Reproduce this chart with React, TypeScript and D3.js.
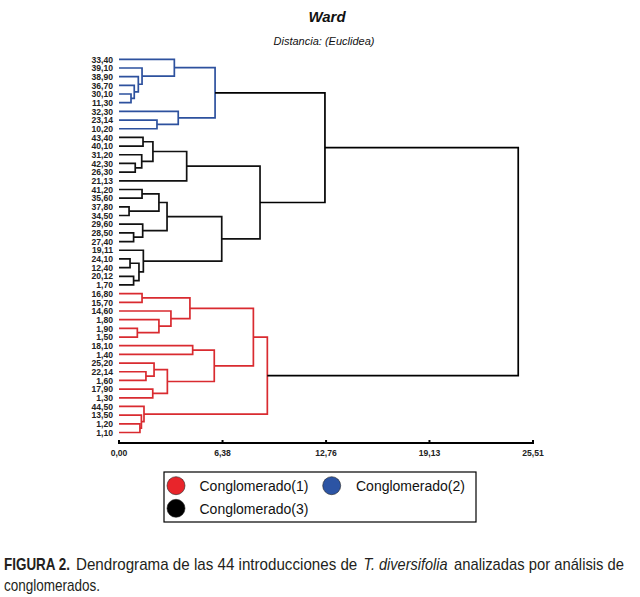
import React, { useLayoutEffect, useRef, useState } from "react";
import * as d3 from "d3";

const leaves = [
  "33,40","39,10","38,90","36,70","30,10","11,30","32,30","23,14","10,20",
  "43,40","40,10","31,20","42,30","26,30","21,13","41,20","35,60","37,80",
  "34,50","29,60","28,50","27,40","19,11","24,10","12,40","20,12","1,70",
  "16,80","15,70","14,60","1,80","1,90","1,50","18,10","1,40","25,20",
  "22,14","1,60","17,90","1,30","44,50","13,50","1,20","1,10",
];

// merges: [childA, childB] ; node id = leaves.length + index
const mergeChildren: [number, number][] = [
  [4,5],[3,44],[2,45],[1,46],[0,47],[7,8],[6,49],[48,50],
  [9,10],[12,13],[11,53],[52,54],[55,14],[15,16],[17,18],[57,58],[20,21],[19,60],[59,61],[23,24],[25,26],[63,64],[22,65],[62,66],[56,67],
  [27,28],[31,32],[30,70],[29,71],[69,72],[33,34],[36,37],[35,75],[38,39],[76,77],[74,78],[73,79],[42,43],[41,81],[40,82],[80,83],
  [51,68],[85,84],
];
const mergeHeights = [
  0.74,0.94,1.19,1.42,3.41,2.34,3.65,5.92,
  1.48,1.00,1.40,2.09,4.17,1.42,0.62,2.46,0.90,1.46,2.96,0.68,0.90,1.23,1.50,6.33,8.69,
  1.42,1.13,2.46,3.20,4.37,4.54,1.66,2.16,2.08,2.98,5.87,8.28,1.29,1.38,1.54,9.14,
  12.69,24.6,
];
// cluster of each merge node (0 = between clusters)
const mergeCluster = [
  2,2,2,2,2,2,2,2,
  3,3,3,3,3,3,3,3,3,3,3,3,3,3,3,3,3,
  1,1,1,1,1,1,1,1,1,1,1,1,1,1,1,1,
  0,0,
];

const tickValues = [0, 6.38, 12.76, 19.13, 25.51];
const clusterNames = ["Conglomerado(1)", "Conglomerado(2)", "Conglomerado(3)"];
const clusterColors = ["#d92b30", "#2d519e", "#111111"];
const legendColors = ["#e8252b", "#2c54a4", "#000000"];
const linkColor = (c: number) => (c === 0 ? "#000000" : clusterColors[c - 1]);

const captionParts = [
  { text: "FIGURA 2.", bold: true, italic: false },
  { text: "Dendrograma de las 44 introducciones de", bold: false, italic: false },
  { text: "T. diversifolia", bold: false, italic: true },
  { text: "analizadas por análisis de", bold: false, italic: false },
  { text: "conglomerados.", bold: false, italic: false },
];

export default function App() {
  const W = 640, H = 597;
  const x = d3.scaleLinear().domain([0, 25.51]).range([119, 533]);
  const yLeaf = d3.scalePoint<number>().domain(d3.range(leaves.length)).range([59.3, 432.5]);

  const n = leaves.length;
  const nodeX: number[] = [];
  const nodeY: number[] = [];
  for (let i = 0; i < n; i++) { nodeX[i] = x(0); nodeY[i] = yLeaf(i)!; }
  mergeChildren.forEach(([a, b], k) => {
    const id = n + k;
    nodeX[id] = x(mergeHeights[k]);
    nodeY[id] = (nodeY[a] + nodeY[b]) / 2;
  });

  const segs: { d: string; color: string }[] = [];
  mergeChildren.forEach(([a, b], k) => {
    const id = n + k;
    const col = linkColor(mergeCluster[k]);
    const px = nodeX[id];
    segs.push({
      d: `M${nodeX[a]},${nodeY[a]}H${px}V${nodeY[b]}H${nodeX[b]}`,
      color: col,
    });
  });

  const sans = "'Liberation Sans', Arial, sans-serif";
  const capLayout = [
    { x: 4, y: 570, w: 66 },
    { x: 76, y: 570, w: 281 },
    { x: 363.5, y: 570, w: 84 },
    { x: 454, y: 570, w: 170 },
    { x: 4, y: 591, w: 96 },
  ];

  const capRefs = useRef<(SVGTextElement | null)[]>([]);
  const [scales, setScales] = useState<number[]>(captionParts.map(() => 0.85));
  useLayoutEffect(() => {
    const s = capRefs.current.map((el, i) => {
      if (!el) return 0.85;
      const len = el.getComputedTextLength();
      return len > 0 ? capLayout[i].w / len : 0.85;
    });
    setScales(s);
  }, []);

  return (
    <svg width={W} height={H} style={{ position: "absolute", left: 0, top: 0, background: "#fff" }}>
      <rect width={W} height={H} fill="#fff" />
      <text x={327} y={21.5} textAnchor="middle" fontFamily={sans} fontWeight="bold" fontStyle="italic" fontSize={15} fill="#111">Ward</text>
      <text x={324} y={45} textAnchor="middle" fontFamily={sans} fontStyle="italic" fontSize={11} fill="#111">Distancia: (Euclidea)</text>

      {segs.map((s, i) => (
        <path key={i} d={s.d} fill="none" stroke={s.color} strokeWidth={1.7} strokeLinejoin="miter" />
      ))}

      {leaves.map((l, i) => (
        <text key={l + i} x={113} y={yLeaf(i)! + 3.2} textAnchor="end" fontFamily={sans} fontWeight="bold" fontSize={8.6} fill="#222">{l}</text>
      ))}

      <line x1={x(0)} x2={x(25.51)} y1={443} y2={443} stroke="#000" strokeWidth={2} />
      {tickValues.map((t) => (
        <g key={t}>
          <line x1={x(t)} x2={x(t)} y1={440} y2={444} stroke="#000" strokeWidth={2} />
          <text x={x(t)} y={456} textAnchor="middle" fontFamily={sans} fontWeight="bold" fontSize={8.6} fill="#222">
            {t.toFixed(2).replace(".", ",")}
          </text>
        </g>
      ))}

      <rect x={164} y={472} width={312} height={50} fill="#fff" stroke="#000" strokeWidth={1.2} />
      {[
        { cx: 176, cy: 485.7, tx: 199.5, ty: 491 },
        { cx: 331.7, cy: 485.7, tx: 356, ty: 491 },
        { cx: 176, cy: 508.3, tx: 199.5, ty: 514 },
      ].map((p, i) => (
        <g key={i}>
          <circle cx={p.cx} cy={p.cy} r={9} fill={legendColors[i]} stroke="#222" strokeWidth={0.6} />
          <text x={p.tx} y={p.ty} fontFamily={sans} fontSize={14} fill="#111">{clusterNames[i]}</text>
        </g>
      ))}

      {captionParts.map((c, i) => (
        <g key={i} transform={`translate(${capLayout[i].x},${capLayout[i].y}) scale(${scales[i]},1)`}>
          <text ref={(el) => { capRefs.current[i] = el; }} x={0} y={0} fontFamily={sans} fontSize={16} fill="#231f20"
            fontWeight={c.bold ? "bold" : "normal"} fontStyle={c.italic ? "italic" : "normal"}>{c.text}</text>
        </g>
      ))}
    </svg>
  );
}
